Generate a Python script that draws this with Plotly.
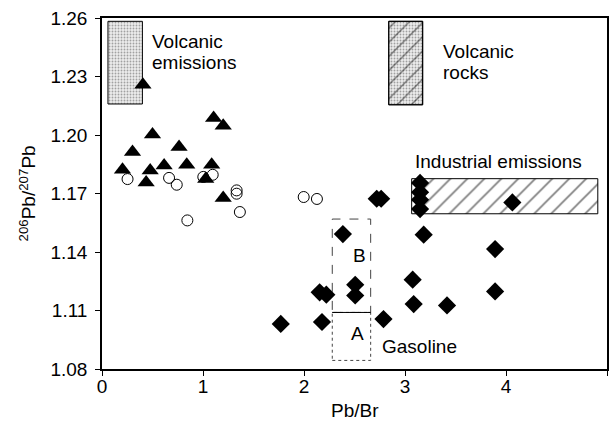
import plotly.graph_objects as go

# ---------------- data ----------------
tri_x = [1.105, 1.20, 0.50, 0.302, 0.763, 0.203, 0.477, 0.615, 0.839, 1.086, 0.437, 1.027, 1.20, 0.405]
tri_y = [1.2087, 1.2048, 1.2002, 1.1913, 1.1938, 1.1822, 1.1818, 1.1843, 1.1848, 1.1848, 1.1757, 1.1774, 1.1677, 1.2258]

circ_x = [0.253, 0.664, 0.740, 1.003, 1.096, 1.333, 1.333, 1.365, 0.845, 1.997, 2.128]
circ_y = [1.1774, 1.1780, 1.1745, 1.1785, 1.1796, 1.1716, 1.1699, 1.1605, 1.1562, 1.1682, 1.1672]

dia_x = [1.77, 2.178, 2.155, 2.221, 2.385, 2.507, 2.507, 2.787, 2.72, 2.764, 3.076, 3.086, 3.185,
         3.149, 3.149, 3.149, 3.149, 4.063, 3.892, 3.416, 3.892]
dia_y = [1.1031, 1.1041, 1.1193, 1.1181, 1.1492, 1.1232, 1.1177, 1.1056, 1.1673, 1.1673, 1.1258, 1.1133, 1.1489,
         1.1754, 1.1706, 1.1668, 1.1620, 1.1654, 1.1415, 1.1126, 1.1198]

# source fields (x0, x1, y0, y1)
volc_em_box = [0.059, 0.40, 1.2159, 1.2583]
volc_rock_box = [2.839, 3.175, 1.2155, 1.2583]
indus_box = [3.066, 4.909, 1.1596, 1.1776]
gas_b_box = [2.28, 2.66, 1.109, 1.1569]
gas_a_box = [2.28, 2.66, 1.0844, 1.109]

x_ticks = [0, 1, 2, 3, 4, 5]
y_ticks = [1.08, 1.11, 1.14, 1.17, 1.20, 1.23, 1.26]

FONT = "Liberation Sans, Arial, Helvetica, sans-serif"


def rect_xy(b):
    x0, x1, y0, y1 = b
    return [x0, x1, x1, x0, x0], [y0, y0, y1, y1, y0]


fig = go.Figure()

# Volcanic emissions: stippled
rx, ry = rect_xy(volc_em_box)
fig.add_trace(go.Scatter(x=rx, y=ry, mode="lines", fill="toself", fillcolor="rgba(0,0,0,0)",
                         fillpattern=dict(shape=".", fgcolor="#555", bgcolor="#ececec", size=3, solidity=0.3),
                         line=dict(color="black", width=1), hoverinfo="skip", showlegend=False))

# Volcanic rocks: stipple + hatch
rx, ry = rect_xy(volc_rock_box)
fig.add_trace(go.Scatter(x=rx, y=ry, mode="lines", fill="toself", fillcolor="rgba(0,0,0,0)",
                         fillpattern=dict(shape=".", fgcolor="#555", bgcolor="#ececec", size=3, solidity=0.3),
                         line=dict(color="black", width=1), hoverinfo="skip", showlegend=False))
fig.add_trace(go.Scatter(x=rx, y=ry, mode="lines", fill="toself", fillcolor="rgba(0,0,0,0)",
                         fillpattern=dict(shape="/", fgcolor="black", bgcolor="rgba(0,0,0,0)", size=10, solidity=0.14),
                         line=dict(color="black", width=1), hoverinfo="skip", showlegend=False))

# Industrial emissions: hatch
rx, ry = rect_xy(indus_box)
fig.add_trace(go.Scatter(x=rx, y=ry, mode="lines", fill="toself", fillcolor="rgba(0,0,0,0)",
                         fillpattern=dict(shape="/", fgcolor="black", bgcolor="white", size=12, solidity=0.14),
                         line=dict(color="black", width=1), hoverinfo="skip", showlegend=False))

# Gasoline B (dashed) and A (dotted sides, solid top)
rx, ry = rect_xy(gas_b_box)
fig.add_trace(go.Scatter(x=rx, y=ry, mode="lines", line=dict(color="#444", width=1, dash="dash"),
                         hoverinfo="skip", showlegend=False))
rx, ry = rect_xy(gas_a_box)
fig.add_trace(go.Scatter(x=rx, y=ry, mode="lines", line=dict(color="#444", width=1, dash="dot"),
                         hoverinfo="skip", showlegend=False))
fig.add_trace(go.Scatter(x=[gas_a_box[0], gas_a_box[1]], y=[gas_a_box[3], gas_a_box[3]], mode="lines",
                         line=dict(color="black", width=1), hoverinfo="skip", showlegend=False))

# Points
fig.add_trace(go.Scatter(x=circ_x, y=circ_y, mode="markers",
                         marker=dict(symbol="circle-open", size=11, color="black", line=dict(width=1)),
                         showlegend=False))
fig.add_trace(go.Scatter(x=tri_x, y=tri_y, mode="markers",
                         marker=dict(symbol="triangle-up", size=15, color="black"),
                         showlegend=False))
fig.add_trace(go.Scatter(x=dia_x, y=dia_y, mode="markers",
                         marker=dict(symbol="diamond", size=14, color="black"),
                         showlegend=False))

ann_font = dict(family=FONT, size=19, color="black")
labels = [
    ("Volcanic", 0.48, 1.2480),
    ("emissions", 0.48, 1.2371),
    ("Volcanic", 3.356, 1.2429),
    ("rocks", 3.356, 1.2319),
    ("Industrial emissions", 3.08, 1.1863),
    ("Gasoline", 2.75, 1.0916),
]
for t, x, y in labels:
    fig.add_annotation(x=x, y=y, text=t, showarrow=False, xanchor="left", yanchor="middle", font=ann_font)
fig.add_annotation(x=2.53, y=1.0981, text="A", showarrow=False, xanchor="center", yanchor="middle", font=ann_font)
fig.add_annotation(x=2.55, y=1.1381, text="B", showarrow=False, xanchor="center", yanchor="middle", font=ann_font)

# Axis titles
fig.add_annotation(x=0.5, y=-0.117, xref="paper", yref="paper", text="Pb/Br", showarrow=False,
                   xanchor="center", yanchor="middle", font=ann_font)
fig.add_annotation(x=-0.1485, y=0.5, xref="paper", yref="paper",
                   text="<sup>206</sup>Pb/<sup>207</sup>Pb", showarrow=False, textangle=-90,
                   xanchor="center", yanchor="middle", font=ann_font)

fig.update_xaxes(range=[0, 5], tickvals=x_ticks, ticktext=[str(v) for v in x_ticks],
                 showline=True, linecolor="black", linewidth=1.5, mirror=True,
                 ticks="outside", ticklen=5, tickcolor="black", tickwidth=1,
                 ticklabelstandoff=-6,
                 showgrid=False, zeroline=False, tickfont=ann_font)
fig.update_yaxes(range=[1.08, 1.26], tickvals=y_ticks, ticktext=["%.2f" % v for v in y_ticks],
                 showline=True, linecolor="black", linewidth=1.5, mirror=True,
                 ticks="outside", ticklen=5, tickcolor="black", tickwidth=1,
                 ticklabelstandoff=4,
                 showgrid=False, zeroline=False, tickfont=ann_font)

fig.update_layout(width=611, height=439, margin=dict(l=102, r=4, t=18, b=70, autoexpand=False),
                  plot_bgcolor="white", paper_bgcolor="white", font=dict(family=FONT))

fig.write_html("out.html")
